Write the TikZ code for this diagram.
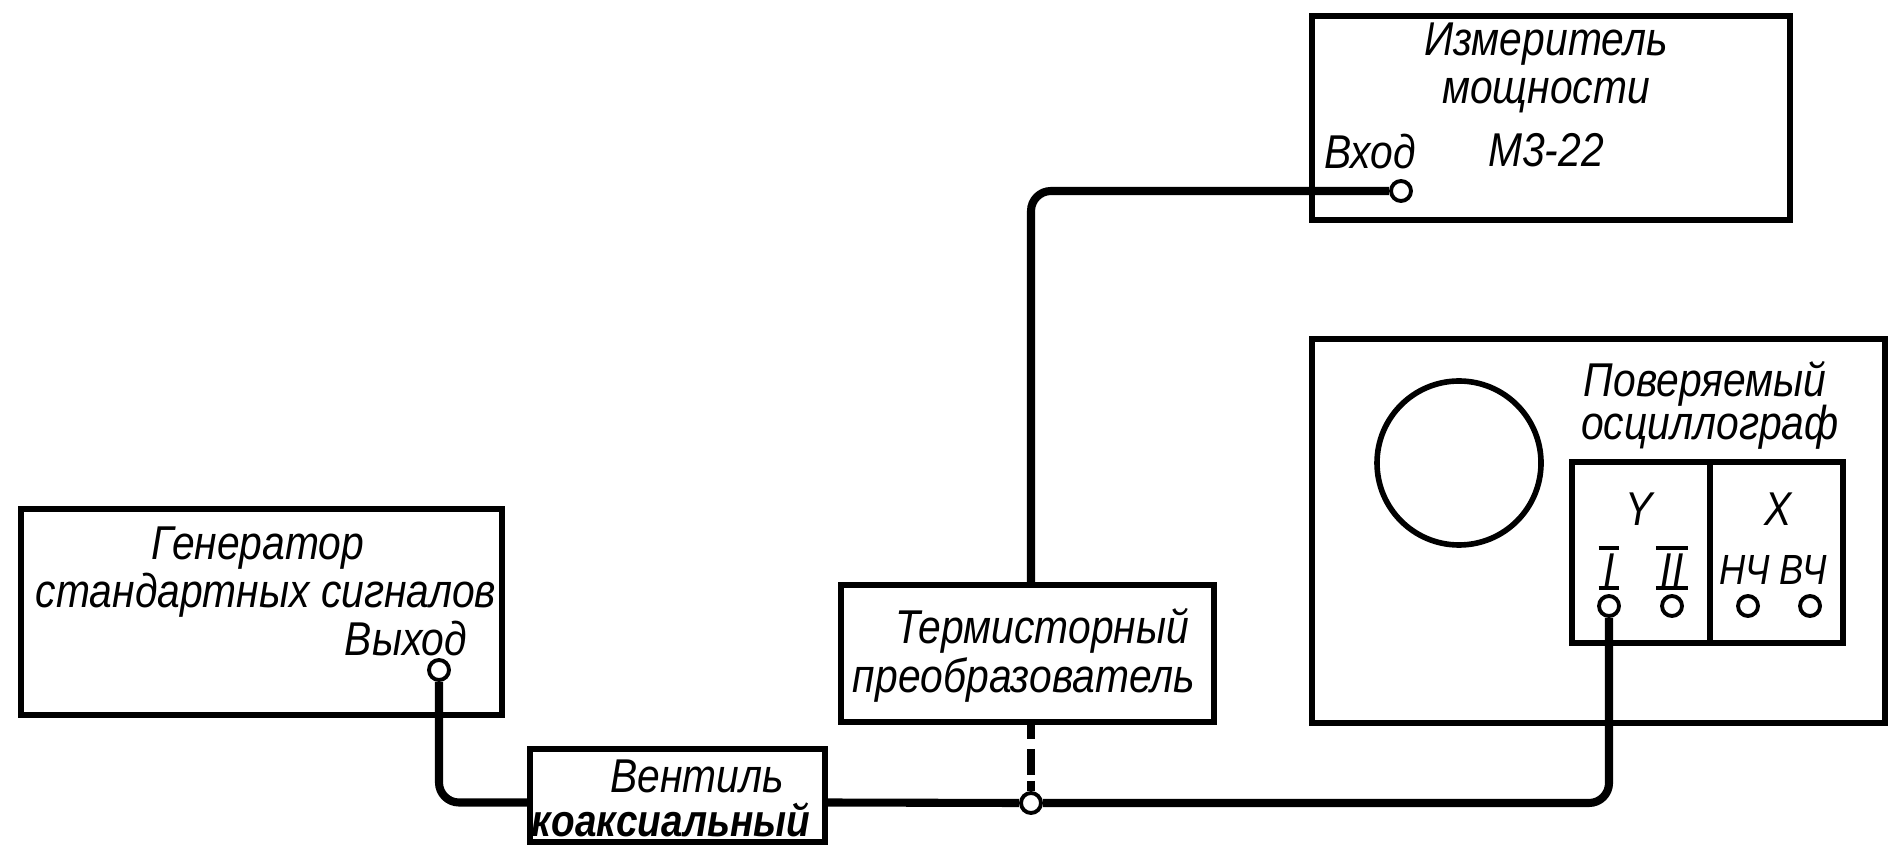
\documentclass[tikz,border=0pt]{standalone}
\usepackage{fontspec}
\setmainfont[FakeStretch=0.86]{Liberation Sans}
\usetikzlibrary{calc, positioning}

\tikzset{
  blockbox/.style={draw, line width=1.6pt, inner sep=0pt},
  terminal/.style={draw, circle, fill=white, line width=1.1pt, inner sep=0pt, minimum size=0.2cm},
  wirepath/.style={line width=2.3pt, rounded corners=0.2cm},
  barline/.style={line width=0.9pt},
  caption/.style={inner sep=0pt, font=\fontsize{13.5}{16}\selectfont\itshape}
}

\begin{document}
\begin{tikzpicture}
  \useasboundingbox (0,0) rectangle (19,8.63);

  % Draw the blocks
  \node[blockbox, minimum width=4.81cm, minimum height=2.06cm] (generator) at (2.615,2.51) {};
  \node[blockbox, minimum width=2.95cm, minimum height=0.93cm] (valve) at (6.775,0.675) {};
  \node[blockbox, minimum width=3.73cm, minimum height=1.37cm] (thermistor) at (10.275,2.095) {};
  \node[blockbox, minimum width=4.78cm, minimum height=2.04cm] (meter) at (15.51,7.45) {};
  \node[blockbox, minimum width=5.73cm, minimum height=3.84cm] (scope) at (15.985,3.32) {};
  \node[blockbox, minimum width=2.71cm, minimum height=1.81cm] (panel) at (17.075,3.105) {};
  \draw[line width=1.6pt] (17.10,4.01) coordinate (divtop) -- (17.10,2.20) coordinate (divbot);
  \node[draw, circle, line width=1.6pt, inner sep=0pt, minimum size=1.64cm] (screen) at (14.59,4.00) {};

  % Terminals
  \node[terminal] (output) at (4.39,1.93) {};
  \node[terminal] (input) at (14.01,6.72) {};
  \node[terminal] (chan1) at (16.09,2.57) {};
  \node[terminal] (chan2) at (16.72,2.57) {};
  \node[terminal] (lowf) at (17.48,2.57) {};
  \node[terminal] (highf) at (18.10,2.57) {};
  \node[terminal] (junction) at (10.31,0.60) {};

  % Wires between the blocks
  \draw[wirepath] (output.south) |- ($(valve.west)+(0,-0.07)$);
  \draw[wirepath] ($(valve.east)+(0,-0.07)$) -- (junction.west);
  \draw[wirepath] (junction.east) -| (chan1.south);
  \draw[wirepath] (input.west) -| (junction |- thermistor.north);
  \draw[line width=2.3pt, dash pattern=on 0.14cm off 0.1cm on 0.26cm off 0.06cm]
    (junction |- thermistor.south) -- (junction.north);

  % Labels of the blocks
  \node[caption] (gentext1) at (2.58,3.15) {Генератор};
  \node[caption] (gentext2) at (2.66,2.68) {стандартных сигналов};
  \node[caption] (outtext) at (4.06,2.24) {Выход};
  \node[caption] (valvetext1) at (6.97,0.87) {Вентиль};
  \node[caption, font=\fontsize{12.8}{16}\selectfont\itshape\bfseries] (valvetext2) at (6.71,0.43) {коаксиальный};
  \node[caption] (thermtext1) at (10.42,2.32) {Термисторный};
  \node[caption] (thermtext2) at (10.24,1.83) {преобразователь};
  \node[caption] (metertext1) at (15.46,8.19) {Измеритель};
  \node[caption] (metertext2) at (15.46,7.68) {мощности};
  \node[caption] (metertext3) at (15.46,7.13) {М3-22};
  \node[caption] (intext) at (13.70,7.11) {Вход};
  \node[caption] (scopetext1) at (17.05,4.79) {Поверяемый};
  \node[caption] (scopetext2) at (17.10,4.36) {осциллограф};

  % Labels on the panel
  \node[caption] (ylabel) at (16.39,3.54) {Y};
  \node[caption] (xlabel) at (17.78,3.54) {X};
  \node[caption] (chan1text) at (16.09,2.93) {I};
  \node[caption] (chan2text) at (16.72,2.93) {II};
  \node[caption, font=\fontsize{12}{16}\selectfont\itshape] (lowtext) at (17.45,2.93) {НЧ};
  \node[caption, font=\fontsize{12}{16}\selectfont\itshape] (hightext) at (18.03,2.93) {ВЧ};

  % Bars over and under the channel numbers
  \foreach \chan in {chan1text, chan2text} {
    \draw[barline] ($(\chan.north west)+(-0.04,0.05)$) -- ($(\chan.north east)+(0.04,0.05)$);
    \draw[barline] ($(\chan.south west)+(-0.04,-0.01)$) -- ($(\chan.south east)+(0.04,-0.01)$);
  }
\end{tikzpicture}
\end{document}
